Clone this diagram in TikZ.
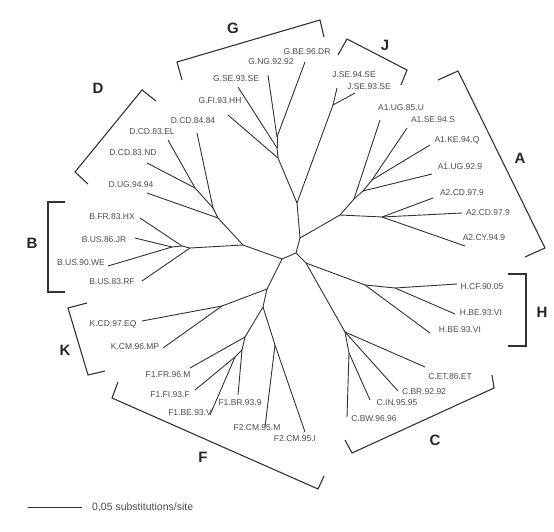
\documentclass[tikz,border=0pt]{standalone}
\usepackage{fontspec}
\setmainfont{Liberation Sans}
\begin{document}
\begin{tikzpicture}[x=1pt,y=-1pt,
  edge/.style={draw=black!80,line width=0.9pt},
  brk/.style={draw=black!80,line width=1.1pt},
  lab/.style={font=\fontsize{8.5}{9}\selectfont,text=black!70,inner sep=0pt},
  clade/.style={font=\fontsize{15}{16}\selectfont\bfseries,text=black!85,inner sep=0pt},
  scaletext/.style={font=\fontsize{10.5}{11}\selectfont,text=black!70,inner sep=0pt,anchor=west}]
\useasboundingbox (0,0) rectangle (554,532);
% internal nodes
\coordinate (r0) at (296,253);
\coordinate (r1) at (282,259);
\coordinate (n1) at (300,238);
\coordinate (n2) at (306,263);
\coordinate (n3) at (297,203);
\coordinate (a0) at (340,215);
\coordinate (g3) at (278,158);
\coordinate (g2) at (277,148);
\coordinate (g1) at (277,137);
\coordinate (jn) at (333,105);
\coordinate (a1) at (354,199);
\coordinate (a1b) at (363,191);
\coordinate (a1c) at (372,180);
\coordinate (a2) at (382,217);
\coordinate (lb) at (243,245);
\coordinate (d3) at (218,218);
\coordinate (d2) at (213,208);
\coordinate (d1) at (195,188);
\coordinate (b3) at (190,248);
\coordinate (b2) at (182,246);
\coordinate (b1) at (172,247);
\coordinate (kf) at (267,289);
\coordinate (kn) at (222,306);
\coordinate (f0) at (263,307);
\coordinate (f1a) at (245,337);
\coordinate (f1b) at (242,350);
\coordinate (f1c) at (235,357);
\coordinate (f2) at (275,345);
\coordinate (h2) at (365,285);
\coordinate (h1) at (395,288);
\coordinate (c1) at (345,332);
\coordinate (c2) at (349,353);
% leaf ends
\coordinate (GBE) at (305,62);
\coordinate (GNG) at (268,75);
\coordinate (GSE) at (238,87);
\coordinate (GFI) at (228,115);
\coordinate (J94) at (337,88);
\coordinate (J93) at (355,93);
\coordinate (A1UGa) at (380,120);
\coordinate (A1SE) at (407,128);
\coordinate (A1KE) at (430,145);
\coordinate (A1UGb) at (432,174);
\coordinate (A2CDa) at (433,198);
\coordinate (A2CDb) at (462,213);
\coordinate (A2CY) at (465,246);
\coordinate (HCF) at (457,284);
\coordinate (HVa) at (455,314);
\coordinate (HVb) at (430,333);
\coordinate (CET) at (425,367);
\coordinate (CBR) at (398,391);
\coordinate (CIN) at (370,400);
\coordinate (CBW) at (347,417);
\coordinate (F2I) at (305,432);
\coordinate (F2M) at (265,427);
\coordinate (F1BR) at (238,395);
\coordinate (F1BE) at (210,415);
\coordinate (F1FI) at (195,390);
\coordinate (F1FR) at (190,368);
\coordinate (KCM) at (163,348);
\coordinate (KCD) at (142,321);
\coordinate (BRF) at (142,281);
\coordinate (BWE) at (108,266);
\coordinate (BJR) at (135,238);
\coordinate (BFR) at (140,218);
\coordinate (DUG) at (147,193);
\coordinate (DND) at (147,163);
\coordinate (DEL) at (168,140);
\coordinate (DCD) at (197,133);
% tree edges
\draw[edge] (r1) -- (r0);
\draw[edge] (r0) -- (n1);
\draw[edge] (r0) -- (n2);
\draw[edge] (n1) -- (n3);
\draw[edge] (n1) -- (a0);
\draw[edge] (n3) -- (g3);
\draw[edge] (n3) -- (jn);
\draw[edge] (g3) -- (GFI);
\draw[edge] (g3) -- (g2);
\draw[edge] (g2) -- (GSE);
\draw[edge] (g2) -- (g1);
\draw[edge] (g1) -- (GNG);
\draw[edge] (g1) -- (GBE);
\draw[edge] (jn) -- (J94);
\draw[edge] (jn) -- (J93);
\draw[edge] (a0) -- (a1);
\draw[edge] (a0) -- (a2);
\draw[edge] (a1) -- (A1UGa);
\draw[edge] (a1) -- (a1b);
\draw[edge] (a1b) -- (A1UGb);
\draw[edge] (a1b) -- (a1c);
\draw[edge] (a1c) -- (A1SE);
\draw[edge] (a1c) -- (A1KE);
\draw[edge] (a2) -- (A2CDa);
\draw[edge] (a2) -- (A2CDb);
\draw[edge] (a2) -- (A2CY);
\draw[edge] (r1) -- (lb);
\draw[edge] (lb) -- (d3);
\draw[edge] (lb) -- (b3);
\draw[edge] (d3) -- (DUG);
\draw[edge] (d3) -- (d2);
\draw[edge] (d2) -- (DCD);
\draw[edge] (d2) -- (d1);
\draw[edge] (d1) -- (DEL);
\draw[edge] (d1) -- (DND);
\draw[edge] (b3) -- (BRF);
\draw[edge] (b3) -- (b2);
\draw[edge] (b2) -- (BFR);
\draw[edge] (b2) -- (b1);
\draw[edge] (b1) -- (BJR);
\draw[edge] (b1) -- (BWE);
\draw[edge] (r1) -- (kf);
\draw[edge] (kf) -- (kn);
\draw[edge] (kf) -- (f0);
\draw[edge] (kn) -- (KCD);
\draw[edge] (kn) -- (KCM);
\draw[edge] (f0) -- (f1a);
\draw[edge] (f0) -- (f2);
\draw[edge] (f2) -- (F2M);
\draw[edge] (f2) -- (F2I);
\draw[edge] (f1a) -- (F1FR);
\draw[edge] (f1a) -- (f1b);
\draw[edge] (f1b) -- (F1BR);
\draw[edge] (f1b) -- (f1c);
\draw[edge] (f1c) -- (F1FI);
\draw[edge] (f1c) -- (F1BE);
\draw[edge] (n2) -- (h2);
\draw[edge] (n2) -- (c1);
\draw[edge] (h2) -- (HVb);
\draw[edge] (h2) -- (h1);
\draw[edge] (h1) -- (HCF);
\draw[edge] (h1) -- (HVa);
\draw[edge] (c1) -- (CET);
\draw[edge] (c1) -- (CBR);
\draw[edge] (c1) -- (c2);
\draw[edge] (c2) -- (CIN);
\draw[edge] (c2) -- (CBW);
% labels
\node[lab] (lGBE) at (307,52) {G.BE.96.DR};
\node[lab] (lGNG) at (271,62) {G.NG.92.92};
\node[lab] (lGSE) at (236,79) {G.SE.93.SE};
\node[lab] (lGFI) at (220,101) {G.FI.93.HH};
\node[lab] (lJ94) at (354,75) {J.SE.94.SE};
\node[lab] (lJ93) at (369,87) {J.SE.93.SE};
\node[lab] (lA1UGa) at (401,108) {A1.UG.85.U};
\node[lab] (lA1SE) at (433,120) {A1.SE.94.S};
\node[lab] (lA1KE) at (457,140) {A1.KE.94.Q};
\node[lab] (lA1UGb) at (460,167) {A1.UG.92.9};
\node[lab] (lA2CDa) at (462,193) {A2.CD.97.9};
\node[lab] (lA2CDb) at (488,213) {A2.CD.97.9};
\node[lab] (lA2CY) at (484,238) {A2.CY.94.9};
\node[lab] (lHCF) at (482,287) {H.CF.90.05};
\node[lab] (lHVa) at (481,313) {H.BE.93.VI};
\node[lab] (lHVb) at (460,330) {H.BE.93.VI};
\node[lab] (lCET) at (450,377) {C.ET.86.ET};
\node[lab] (lCBR) at (424,392) {C.BR.92.92};
\node[lab] (lCIN) at (397,403) {C.IN.95.95};
\node[lab] (lCBW) at (374,419) {C.BW.96.96};
\node[lab] (lF2I) at (295,439) {F2.CM.95.I};
\node[lab] (lF2M) at (257,428) {F2.CM.95.M};
\node[lab] (lF1BR) at (240,403) {F1.BR.93.9};
\node[lab] (lF1BE) at (190,413) {F1.BE.93.V};
\node[lab] (lF1FI) at (170,395) {F1.FI.93.F};
\node[lab] (lF1FR) at (168,375) {F1.FR.96.M};
\node[lab] (lKCM) at (135,347) {K.CM.96.MP};
\node[lab] (lKCD) at (113,324) {K.CD.97.EQ};
\node[lab] (lBRF) at (112,282) {B.US.83.RF};
\node[lab] (lBWE) at (81,263) {B.US.90.WE};
\node[lab] (lBJR) at (104,240) {B.US.86.JR};
\node[lab] (lBFR) at (112,217) {B.FR.83.HX};
\node[lab] (lDUG) at (131,185) {D.UG.94.94};
\node[lab] (lDND) at (133,153) {D.CD.83.ND};
\node[lab] (lDEL) at (152,132) {D.CD.83.EL};
\node[lab] (lDCD) at (193,121) {D.CD.84.84};
% brackets
\draw[brk] (182,80) -- (177,62) -- (320,20) -- (324,37);
\draw[brk] (338,55) -- (347,39) -- (407,70) -- (401,85);
\draw[brk] (438,80) -- (458,71) -- (545,248) -- (525,257);
\draw[brk] (508,274) -- (526,274) -- (526,346) -- (508,346);
\draw[brk] (492,375) -- (494,388) -- (352,453) -- (345,440);
\draw[brk] (87,303) -- (68,308) -- (88,375) -- (105,371);
\draw[brk] (118,382) -- (112,398) -- (318,489) -- (324,476);
\draw[brk] (156,101) -- (142,90) -- (75,172) -- (88,184);
\draw[brk] (65,202) -- (48,202) -- (48,292) -- (65,292);
% clade letters
\node[clade] (cG) at (233,28) {G};
\node[clade] (cJ) at (385,45) {J};
\node[clade] (cA) at (520,158) {A};
\node[clade] (cH) at (542,312) {H};
\node[clade] (cC) at (435,440) {C};
\node[clade] (cF) at (203,457) {F};
\node[clade] (cK) at (65,350) {K};
\node[clade] (cB) at (32,243) {B};
\node[clade] (cD) at (98,88) {D};
% scale bar
\coordinate (sb1) at (28,507);
\coordinate (sb2) at (82,507);
\draw[edge] (sb1) -- (sb2);
\node[scaletext] (sbt) at (92,507) {0,05 substitutions/site};
\end{tikzpicture}
\end{document}
